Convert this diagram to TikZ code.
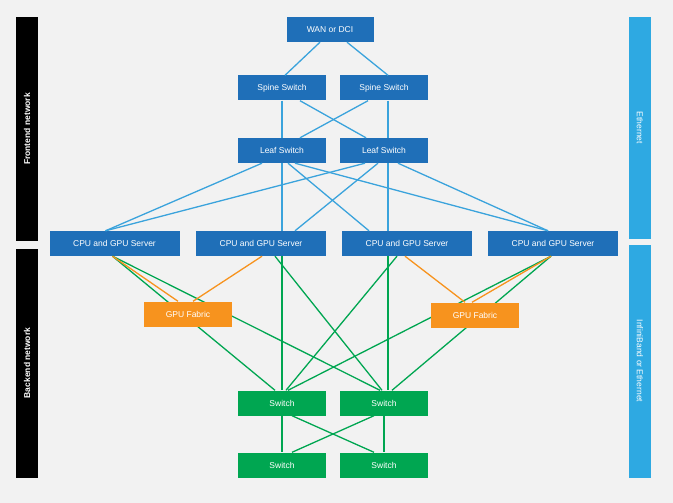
\documentclass[tikz,border=0pt]{standalone}
\usepackage{fontspec}
\setmainfont{Liberation Sans}
\usetikzlibrary{positioning}
\definecolor{boxblue}{HTML}{1F6FB8}
\definecolor{lineblue}{HTML}{3AA3DC}
\definecolor{barblue}{HTML}{2EA9E2}
\definecolor{netgreen}{HTML}{00A651}
\definecolor{fabricorange}{HTML}{F7931E}
\definecolor{bggray}{HTML}{F2F2F2}
\begin{document}
\begin{tikzpicture}[x=1pt,y=-1pt,
	box/.style={fill=boxblue,text=white,inner sep=0pt,minimum height=25pt,font=\fontsize{8.5}{10}\selectfont},
	sw/.style={box,minimum width=88pt},
	srv/.style={box,minimum width=130pt},
	fab/.style={box,fill=fabricorange,minimum width=88pt},
	gsw/.style={box,fill=netgreen,minimum width=88pt},
	fe/.style={lineblue,line width=1.3pt},
	be/.style={netgreen,line width=1.3pt},
	or/.style={fabricorange,line width=1.3pt},
	bar/.style={inner sep=0pt,text=white,font=\bfseries\fontsize{8.5}{10}\selectfont}]
	\useasboundingbox (0,0) rectangle (673,503);
	\fill [bggray] (0,0) rectangle (673,503);
	% side bars
	\fill [black] (16,17) rectangle (38,241);
	\fill [black] (16,249) rectangle (38,478);
	\fill [barblue] (629,17) rectangle (651,239);
	\fill [barblue] (629,245) rectangle (651,478);
	\node [bar,rotate=90] (front) at (27,129) {Frontend network};
	\node [bar,rotate=90] (back) at (27,363) {Backend network};
	\node [bar,rotate=-90,font=\fontsize{8.5}{10}\selectfont] (eth) at (640,128) {Ethernet};
	\node [bar,rotate=-90,font=\fontsize{8.5}{10}\selectfont] (ib) at (640,361) {InfiniBand or Ethernet};
	% nodes
	\node [sw,minimum width=87pt] (wan) at (330,29.5) {WAN or DCI};
	\node [sw] (spine1) at (282,88) {Spine Switch};
	\node [sw] (spine2) at (384,88) {Spine Switch};
	\node [sw] (leaf1) at (282,150.5) {Leaf Switch};
	\node [sw] (leaf2) at (384,150.5) {Leaf Switch};
	\node [srv] (srv1) at (114.5,243.5) {CPU and GPU Server};
	\node [srv] (srv2) at (261,243.5) {CPU and GPU Server};
	\node [srv] (srv3) at (407,243.5) {CPU and GPU Server};
	\node [srv] (srv4) at (553,243.5) {CPU and GPU Server};
	\node [gsw] (bsw1) at (282,403) {Switch};
	\node [gsw] (bsw2) at (384,403) {Switch};
	\node [gsw] (bsw3) at (282,465) {Switch};
	\node [gsw] (bsw4) at (384,465) {Switch};
	% frontend links
	\draw [fe] ([xshift=-10pt]wan.south) -- ([xshift=3pt]spine1.north);
	\draw [fe] ([xshift=17pt]wan.south) -- ([xshift=4pt]spine2.north);
	\draw [fe] (spine1.south) -- (leaf1.north);
	\draw [fe] ([xshift=18pt]spine1.south) -- ([xshift=-18pt]leaf2.north);
	\draw [fe] ([xshift=-16pt]spine2.south) -- ([xshift=18pt]leaf1.north);
	\draw [fe] ([xshift=4pt]spine2.south) -- ([xshift=4pt]leaf2.north);
	\draw [fe] ([xshift=-20pt]leaf1.south) -- ([xshift=-9pt]srv1.north);
	\draw [fe] (leaf1.south) -- ([xshift=21pt]srv2.north);
	\draw [fe] ([xshift=6pt]leaf1.south) -- ([xshift=-38pt]srv3.north);
	\draw [fe] ([xshift=13pt]leaf1.south) -- ([xshift=-5pt]srv4.north);
	\draw [fe] ([xshift=-19pt]leaf2.south) -- ([xshift=-9pt]srv1.north);
	\draw [fe] ([xshift=-6pt]leaf2.south) -- ([xshift=34pt]srv2.north);
	\draw [fe] ([xshift=4pt]leaf2.south) -- ([xshift=-19pt]srv3.north);
	\draw [fe] ([xshift=14pt]leaf2.south) -- ([xshift=-5pt]srv4.north);
	% backend links
	\draw [be] ([xshift=-2pt]srv1.south) -- ([xshift=-7pt]bsw1.north);
	\draw [be] ([xshift=-2pt]srv1.south) -- ([xshift=-4pt]bsw2.north);
	\draw [be] ([xshift=21pt]srv2.south) -- (bsw1.north);
	\draw [be] ([xshift=14pt]srv2.south) -- ([xshift=-2pt]bsw2.north);
	\draw [be] ([xshift=-10pt]srv3.south) -- ([xshift=4pt]bsw1.north);
	\draw [be] ([xshift=-19pt]srv3.south) -- ([xshift=4pt]bsw2.north);
	\draw [be] ([xshift=-2pt]srv4.south) -- ([xshift=6pt]bsw1.north);
	\draw [be] ([xshift=-2pt]srv4.south) -- ([xshift=8pt]bsw2.north);
	\node [fab] (fab1) at (188,314) {GPU Fabric};
	\node [fab] (fab2) at (475,315) {GPU Fabric};
	\draw [or] ([xshift=-2pt]srv1.south) -- ([xshift=-10pt]fab1.north);
	\draw [or] ([xshift=1pt]srv2.south) -- ([xshift=5pt]fab1.north);
	\draw [or] ([xshift=-2pt]srv3.south) -- ([xshift=-10pt]fab2.north);
	\draw [or] ([xshift=-2pt]srv4.south) -- ([xshift=-3pt]fab2.north);
	\draw [be] (bsw1) -- (bsw3);
	\draw [be] (bsw2) -- (bsw4);
	\draw [be] ([xshift=10pt]bsw1.south) -- ([xshift=-10pt]bsw4.north);
	\draw [be] ([xshift=-10pt]bsw2.south) -- ([xshift=10pt]bsw3.north);
	% redraw switches on top
	\node [gsw] at (bsw1) {Switch};
	\node [gsw] at (bsw2) {Switch};
	\node [gsw] at (bsw3) {Switch};
	\node [gsw] at (bsw4) {Switch};
\end{tikzpicture}
\end{document}
